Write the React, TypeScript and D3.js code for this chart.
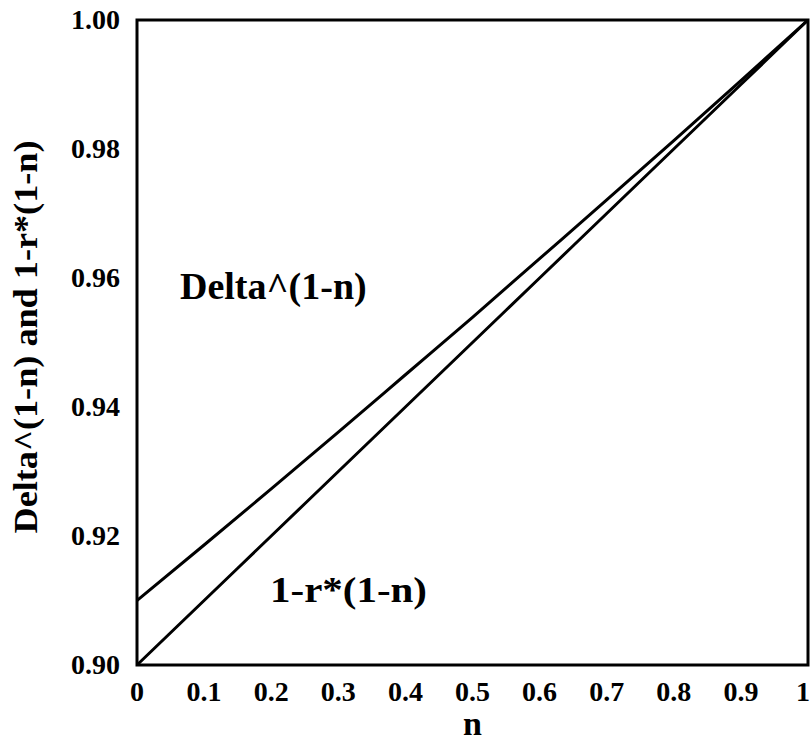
import React, { useRef, useEffect } from "react";
import * as d3 from "d3";

// values
const nValues = [0, 0.1, 0.2, 0.3, 0.4, 0.5, 0.6, 0.7, 0.8, 0.9, 1];
const deltaPow = [0.91, 0.9186, 0.9273, 0.9361, 0.945, 0.9539, 0.963, 0.9721, 0.9813, 0.9906, 1];
const linearR = [0.9, 0.91, 0.92, 0.93, 0.94, 0.95, 0.96, 0.97, 0.98, 0.99, 1];
const xTicks = [0, 0.1, 0.2, 0.3, 0.4, 0.5, 0.6, 0.7, 0.8, 0.9, 1];
const yTicks = [0.9, 0.92, 0.94, 0.96, 0.98, 1.0];

const font = "'Liberation Serif', 'Times New Roman', serif";

const App = () => {
  const canvas = useRef<SVGSVGElement>(null);

  const width = 812;
  const height = 744;
  const margin = { top: 20, right: 4, bottom: 79, left: 137 };

  useEffect(() => {
    const svg = d3.select(canvas.current);
    svg.selectAll("*").remove();

    const xScale = d3.scaleLinear().domain([0, 1]).range([margin.left, width - margin.right]);
    const yScale = d3.scaleLinear().domain([0.9, 1.0]).range([height - margin.bottom, margin.top]);

    const line = d3.line<[number, number]>()
      .x(d => xScale(d[0]))
      .y(d => yScale(d[1]))
      .curve(d3.curveMonotoneX);

    const addLine = (vals: number[]) => {
      svg.append("path")
        .datum(nValues.map((n, i) => [n, vals[i]] as [number, number]))
        .attr("d", line)
        .style("fill", "none")
        .style("stroke", "#000")
        .style("stroke-width", 3);
    };
    addLine(deltaPow);
    addLine(linearR);

    // frame
    svg.append("rect")
      .attr("x", xScale(0))
      .attr("y", yScale(1))
      .attr("width", xScale(1) - xScale(0))
      .attr("height", yScale(0.9) - yScale(1))
      .style("fill", "none")
      .style("stroke", "#000")
      .style("stroke-width", 3);

    // tick labels
    svg.append("g").selectAll("text")
      .data(xTicks)
      .enter().append("text")
      .attr("x", d => Math.min(xScale(d), 803))
      .attr("y", yScale(0.9) + 36)
      .attr("text-anchor", "middle")
      .style("font-family", font)
      .style("font-weight", "bold")
      .style("font-size", "28px")
      .text(d => d3.format("")(d));

    svg.append("g").selectAll("text")
      .data(yTicks)
      .enter().append("text")
      .attr("x", 120)
      .attr("y", d => yScale(d) + 9)
      .attr("text-anchor", "end")
      .style("font-family", font)
      .style("font-weight", "bold")
      .style("font-size", "28px")
      .text(d => d3.format(".2f")(d));

    // axis titles
    svg.append("text")
      .attr("x", (xScale(0) + xScale(1)) / 2)
      .attr("y", 735)
      .attr("text-anchor", "middle")
      .style("font-family", font)
      .style("font-weight", "bold")
      .style("font-size", "34px")
      .text("n");

    svg.append("text")
      .attr("transform", "translate(37,337) rotate(-90)")
      .attr("text-anchor", "middle")
      .attr("textLength", 393)
      .attr("lengthAdjust", "spacingAndGlyphs")
      .style("font-family", font)
      .style("font-weight", "bold")
      .style("font-size", "33px")
      .text("Delta^(1-n) and 1-r*(1-n)");

    // curve labels
    svg.append("text")
      .attr("x", 180)
      .attr("y", 299)
      .style("font-family", font)
      .style("font-weight", "bold")
      .style("font-size", "38px")
      .text("Delta^(1-n)");

    svg.append("text")
      .attr("x", 270)
      .attr("y", 602)
      .attr("textLength", 157)
      .attr("lengthAdjust", "spacingAndGlyphs")
      .style("font-family", font)
      .style("font-weight", "bold")
      .style("font-size", "36px")
      .text("1-r*(1-n)");
  });

  return (
    <svg ref={canvas} width={width} height={height}
      style={{ position: "absolute", left: 0, top: 0, background: "#fff" }} />
  );
};

export default App;
